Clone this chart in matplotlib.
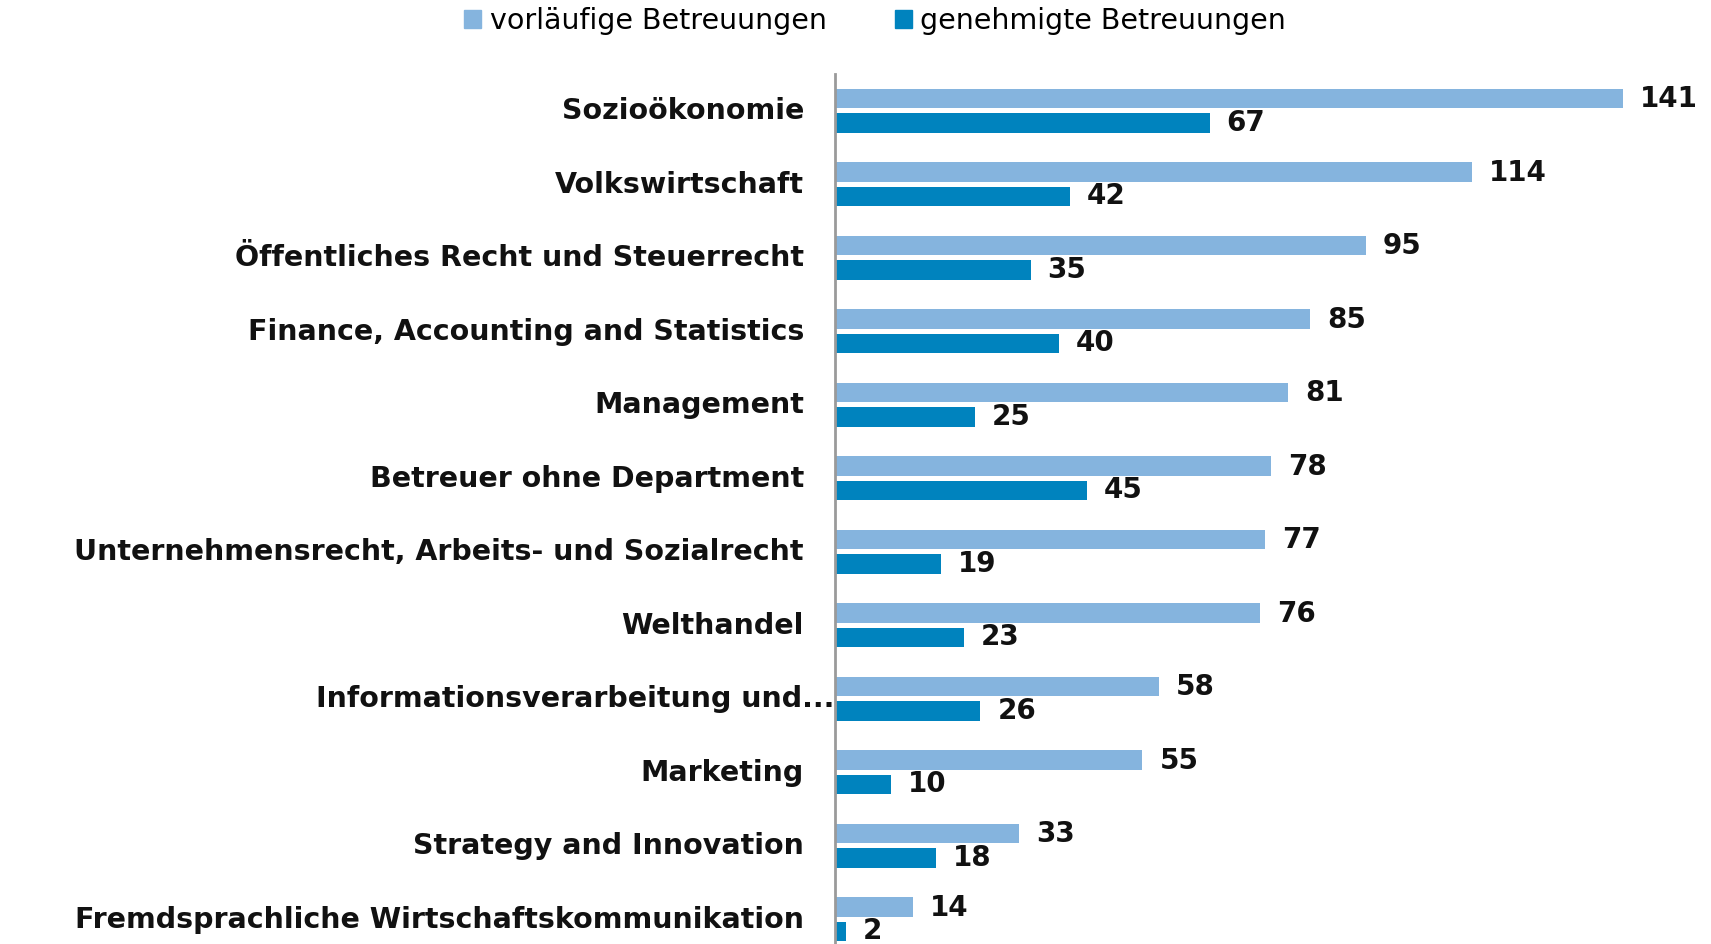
import matplotlib
matplotlib.use("Agg")
import matplotlib.pyplot as plt
from matplotlib.patches import Patch
import matplotlib.transforms as mtransforms
import numpy as np

categories = [
    "Sozioökonomie",
    "Volkswirtschaft",
    "Öffentliches Recht und Steuerrecht",
    "Finance, Accounting and Statistics",
    "Management",
    "Betreuer ohne Department",
    "Unternehmensrecht, Arbeits- und Sozialrecht",
    "Welthandel",
    "Informationsverarbeitung und...",
    "Marketing",
    "Strategy and Innovation",
    "Fremdsprachliche Wirtschaftskommunikation",
]
vorlaeufig = [141, 114, 95, 85, 81, 78, 77, 76, 58, 55, 33, 14]
genehmigt = [67, 42, 35, 40, 25, 45, 19, 23, 26, 10, 18, 2]
series_names = ["vorläufige Betreuungen", "genehmigte Betreuungen"]

c_light = "#85B4DE"
c_dark = "#0083BE"

W, H = 1711, 944
fig = plt.figure(figsize=(W / 100, H / 100), dpi=100)
ax_left = 835 / W
ax_right = 1711 / W
ax_top = 1 - 74 / H
ax_h = 12 * 73.5 / H
ax = fig.add_axes([ax_left, ax_top - ax_h, ax_right - ax_left, ax_h])

n = len(categories)
y = np.arange(n)
bh = 0.265
gap = 0.068
ax.barh(y - (bh + gap) / 2, vorlaeufig, height=bh, color=c_light, label=series_names[0])
ax.barh(y + (bh + gap) / 2, genehmigt, height=bh, color=c_dark, label=series_names[1])

ax.set_ylim(n - 0.5, -0.5)
ax.set_xlim(0, 876 / 5.59)

for s in ["top", "right", "bottom"]:
    ax.spines[s].set_visible(False)
ax.spines["left"].set_color("#9A9A9A")
ax.spines["left"].set_linewidth(2)
ax.set_xticks([])
ax.set_yticks([])

lbl_font = dict(fontsize=20.5, fontweight="bold", color="#111111", family="DejaVu Sans")
val_font = dict(fontsize=20, fontweight="bold", color="#111111", family="DejaVu Sans")
trans = mtransforms.blended_transform_factory(ax.transAxes, ax.transData)
axw = W * (ax_right - ax_left)
for i, cat in enumerate(categories):
    xoff = (-1 if cat.endswith("...") else -31) / axw
    ax.text(xoff, i + 0.01, cat, transform=trans, ha="right", va="center", **lbl_font)

off = mtransforms.offset_copy(ax.transData, fig=fig, x=17, y=0, units="dots")
for i, (a, b) in enumerate(zip(vorlaeufig, genehmigt)):
    ax.text(a, i - (bh + gap) / 2 + 0.01, str(a), transform=off, ha="left", va="center", **val_font)
    ax.text(b, i + (bh + gap) / 2 + 0.0, str(b), transform=off, ha="left", va="center", **val_font)

handles = [Patch(color=c_light), Patch(color=c_dark)]
fig.legend(handles, series_names, loc="center", bbox_to_anchor=((468 + 1282) / 2 / W, 1 - 21 / H),
           ncol=2, frameon=False, handlelength=0.6, handleheight=0.6, handletextpad=0.3,
           columnspacing=2.4, prop={"family": "DejaVu Sans", "size": 20.5})

fig.savefig("out.png", dpi=100)
